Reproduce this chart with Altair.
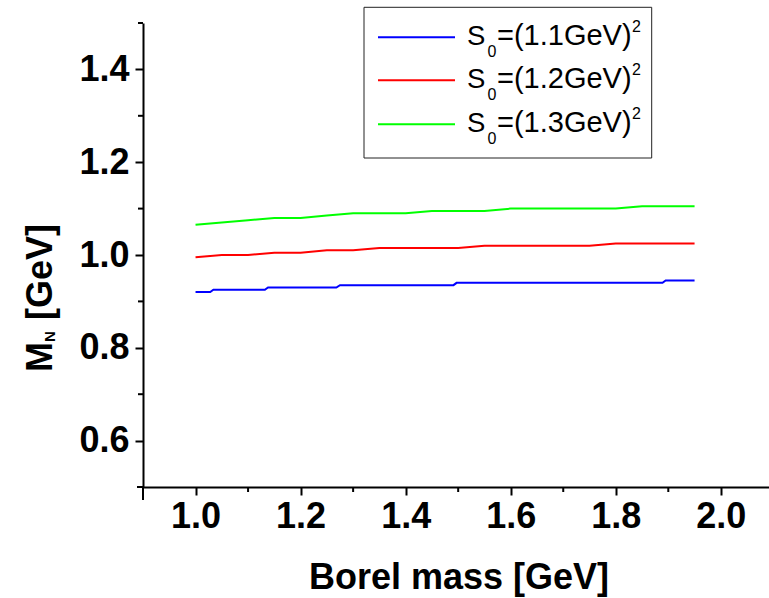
import altair as alt
import pandas as pd

# Borel mass (GeV) and extracted nucleon mass M_N (GeV) for three continuum thresholds
borel_s11 = [1.000, 1.028, 1.034, 1.132, 1.138, 1.268, 1.275, 1.491, 1.497, 1.889, 1.895, 1.950]
mass_s11 = [0.920, 0.920, 0.925, 0.925, 0.930, 0.930, 0.935, 0.935, 0.940, 0.940, 0.945, 0.945]

borel_grid = [1.00, 1.05, 1.10, 1.15, 1.20, 1.25, 1.30, 1.35, 1.40, 1.45,
              1.50, 1.55, 1.60, 1.65, 1.70, 1.75, 1.80, 1.85, 1.90, 1.95]
mass_s12 = [0.995, 1.000, 1.000, 1.005, 1.005, 1.010, 1.010, 1.015, 1.015, 1.015,
            1.015, 1.020, 1.020, 1.020, 1.020, 1.020, 1.025, 1.025, 1.025, 1.025]
mass_s13 = [1.065, 1.070, 1.075, 1.080, 1.080, 1.085, 1.090, 1.090, 1.090, 1.095,
            1.095, 1.095, 1.100, 1.100, 1.100, 1.100, 1.100, 1.105, 1.105, 1.105]

thresholds = ["1.1", "1.2", "1.3"]
line_colors = ["#0000ff", "#ff0000", "#00ff00"]

x_major = [1.0, 1.2, 1.4, 1.6, 1.8, 2.0]
x_minor = [0.9, 1.1, 1.3, 1.5, 1.7, 1.9]
y_major = [0.6, 0.8, 1.0, 1.2, 1.4]
y_minor = [0.5, 0.7, 0.9, 1.1, 1.3, 1.5]

W, H = 626, 464
FONT = "Liberation Sans"

x_scale = alt.Scale(domain=[0.9, 2.0917], nice=False, zero=False)
y_scale = alt.Scale(domain=[0.5, 1.5], nice=False, zero=False)

series = ["S0=(%sGeV)^2" % t for t in thresholds]
rows = []
for bx, my in zip(borel_s11, mass_s11):
    rows.append({"borel": bx, "mass": my, "series": series[0]})
for bx, my in zip(borel_grid, mass_s12):
    rows.append({"borel": bx, "mass": my, "series": series[1]})
for bx, my in zip(borel_grid, mass_s13):
    rows.append({"borel": bx, "mass": my, "series": series[2]})
df = pd.DataFrame(rows)

axis_common = dict(
    domainColor="black", domainWidth=2, tickColor="black", tickWidth=2, tickSize=8,
    labelFont=FONT, labelFontWeight="bold", labelFontSize=36, labelColor="black",
    grid=False, labelOverlap=False, format=".1f",
)

x_enc = alt.X("borel:Q", scale=x_scale,
              axis=alt.Axis(values=x_major, labelPadding=4, labelFlush=False,
                            title="Borel mass [GeV]", titleFont=FONT, titleFontSize=36,
                            titleFontWeight="bold", titleColor="black",
                            titleX=315.5, titleY=101, titleBaseline="alphabetic",
                            **axis_common))
y_enc = alt.Y("mass:Q", scale=y_scale,
              axis=alt.Axis(values=y_major, labelPadding=6, title=None, **axis_common))

lines = alt.Chart(df).mark_line(strokeWidth=2).encode(
    x=x_enc,
    y=y_enc,
    color=alt.Color("series:N", scale=alt.Scale(domain=series, range=line_colors), legend=None),
)

# minor ticks on both axes
x_minor_ticks = alt.Chart(pd.DataFrame({"borel": x_minor})).mark_rule(
    color="black", strokeWidth=2
).encode(
    x=x_enc,
    y=alt.value(H), y2=alt.value(H + 5),
)
y_minor_ticks = alt.Chart(pd.DataFrame({"mass": y_minor})).mark_rule(
    color="black", strokeWidth=2
).encode(
    y=y_enc,
    x=alt.value(-5), x2=alt.value(0),
)

# short overhang of the two axis lines at the origin corner
corner = alt.Chart(pd.DataFrame({"a": [0]}))
corner_v = corner.mark_rule(color="black", strokeWidth=2).encode(
    x=alt.value(0), y=alt.value(H), y2=alt.value(H + 13)
)
corner_h = corner.mark_rule(color="black", strokeWidth=2).encode(
    x=alt.value(-6), x2=alt.value(0), y=alt.value(H)
)


def text_piece(text, x, y, size, weight="normal", angle=None):
    kw = dict(font=FONT, fontSize=size, fontWeight=weight, color="black",
              align="left", baseline="alphabetic")
    if angle is not None:
        kw["angle"] = angle
    return alt.Chart(pd.DataFrame({"t": [text]})).mark_text(**kw).encode(
        text="t:N", x=alt.value(x), y=alt.value(y)
    )


# y-axis title: M with subscript N, then [GeV], reading upward
y_title = [
    text_piece("M", -91, 349, 36, "bold", 270),
    text_piece("N", -88, 319, 15, "bold", 270),
    text_piece("[GeV]", -91, 297, 36, "bold", 270),
]

# legend frame, sample lines and labels
legend_box = alt.Chart(pd.DataFrame({"a": [0]})).mark_rect(
    fill="white", stroke="#222222", strokeWidth=1
).encode(
    x=alt.value(221), x2=alt.value(508.7), y=alt.value(-15.7), y2=alt.value(135)
)

legend_layers = [legend_box]
line_rows = [14.3, 57.3, 101.3]
for t, c, ly in zip(thresholds, line_colors, line_rows):
    legend_layers.append(
        alt.Chart(pd.DataFrame({"a": [0]})).mark_rule(color=c, strokeWidth=2).encode(
            x=alt.value(235), x2=alt.value(312), y=alt.value(ly)
        )
    )
    base = ly + 7.7
    legend_layers += [
        text_piece("S", 324, base, 27.5),
        text_piece("0", 344.5, base + 12.3, 16),
        text_piece("=(%sGeV)" % t, 354, base, 29),
        text_piece("2", 489, base - 13.3, 16),
    ]

chart = alt.layer(
    lines, x_minor_ticks, y_minor_ticks, corner_v, corner_h, *y_title, *legend_layers
).properties(
    width=W, height=H,
    padding={"left": 143, "top": 23, "right": 0, "bottom": 111},
    autosize=alt.AutoSizeParams(type="none"),
    background="white",
).configure_view(stroke=None)

chart.save("out.html", embed_options={"renderer": "svg", "actions": False})
